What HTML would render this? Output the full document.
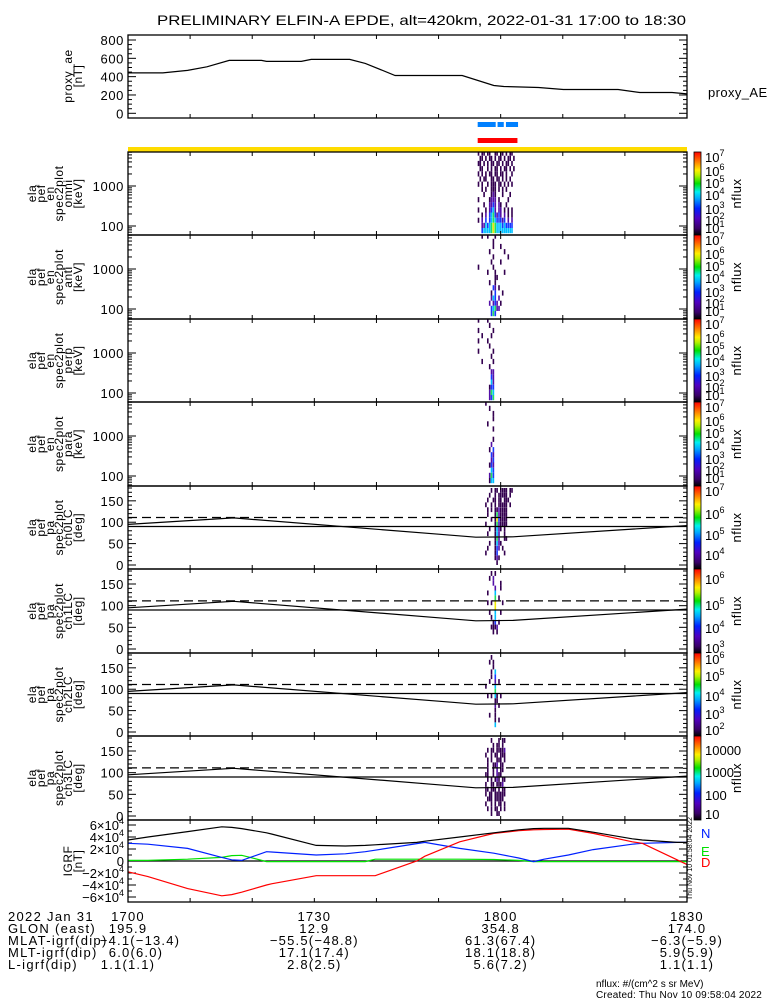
<!DOCTYPE html>
<html><head><meta charset="utf-8">
<style>
html,body{margin:0;padding:0;background:#fff;}
svg{display:block;font-family:"Liberation Sans",sans-serif;}
text{fill:#000;}
</style></head>
<body>
<svg id="chart" width="775" height="1000" viewBox="0 0 775 1000" xmlns="http://www.w3.org/2000/svg">
<defs>
<linearGradient id="cbar" x1="0" y1="1" x2="0" y2="0">
<stop offset="0" stop-color="#000000"/><stop offset="0.08" stop-color="#3a0068"/><stop offset="0.2" stop-color="#5000c0"/>
<stop offset="0.32" stop-color="#0020ff"/><stop offset="0.44" stop-color="#00a8ff"/><stop offset="0.52" stop-color="#00f0f0"/>
<stop offset="0.62" stop-color="#00e000"/><stop offset="0.72" stop-color="#b8f000"/><stop offset="0.78" stop-color="#ffef00"/>
<stop offset="0.88" stop-color="#ff8000"/><stop offset="1" stop-color="#ff0000"/>
</linearGradient>
</defs>
<text x="157" y="25" font-size="14" textLength="529" lengthAdjust="spacingAndGlyphs">PRELIMINARY ELFIN-A EPDE, alt=420km, 2022-01-31 17:00 to 18:30</text>
<g id="g"></g>
</svg>
<script>
// ---- data ----
const aeTimes = [0, 5.6, 9.6, 12.7, 16.3, 21.5, 22.3, 27.9, 29.5, 35.7, 38.2, 43, 53.8, 58.9, 60.5, 66.1, 70.1, 78.9, 82.4, 87.6, 90];
const aeValues = [441, 441, 468, 507, 577, 577, 566, 566, 588, 588, 545, 413, 413, 303, 292, 282, 260, 260, 227, 227, 212];
const aeTicks = [0, 200, 400, 600, 800];
const igrfTimes = [0, 3.2, 9.6, 15.1, 16.7, 18.3, 22.3, 23.1, 30.3, 35, 38.2, 39.8, 46.5, 47.8, 53.4, 58.9, 62.9, 65.3, 67, 70.9, 74.9, 81.2, 82.8, 88.4, 90];
const igrfTotal = [3.5, 4.0, 4.9, 5.7, 5.6, 5.4, 4.7, 4.5, 2.6, 2.5, 2.6, 2.7, 3.1, 3.3, 4.0, 4.7, 5.2, 5.4, 5.45, 5.45, 4.8, 3.7, 3.5, 3.1, 3.1];
const igrfN = [2.95, 2.8, 2.1, 0.6, 0.2, 0.1, 1.55, 1.5, 1.0, 1.2, 1.55, 1.8, 2.9, 3.1, 2.1, 1.3, 0.5, -0.1, 0.3, 1.0, 1.9, 2.8, 2.95, 3.1, 3.1];
const igrfE = [0.1, 0.1, 0.3, 0.6, 0.9, 0.95, -0.1, -0.1, -0.1, -0.1, -0.1, 0.3, 0.3, 0.3, 0.3, 0.25, 0.1, -0.1, -0.1, -0.1, -0.1, -0.1, -0.1, -0.1, -0.1];
const igrfD = [-1.8, -2.6, -4.6, -5.8, -5.6, -5.2, -4.0, -3.8, -2.45, -2.45, -2.45, -2.45, 0, 0.8, 3.2, 4.6, 5.05, 5.2, 5.25, 5.3, 4.6, 3.2, 2.95, 0.2, -0.6];
const igrfTicks = [-6, -4, -2, 0, 2, 4, 6];
const lcTimes = [0, 17, 50, 56, 62, 90];
const lossCone = [95, 110, 72, 65, 66, 92];
const refAngle = [90, 111];
const colTimes = [56.3, 56.6, 56.9, 57.2, 57.5, 57.8, 58.1, 58.4, 58.7, 59.0, 59.3, 59.6, 59.9, 60.2, 60.5, 60.8, 61.1, 61.4, 61.7, 62.0];
const energyEdges = [66, 89, 120, 161, 217, 292, 393, 529, 712, 958, 1290, 1736, 2337, 3146, 4235, 5700, 7100];
const flagTimesBlue = [[56.3, 59.2], [59.5, 60.5], [60.85, 62.8]];
const flagTimesRed = [[56.3, 62.7]];
const omniRows = ["10110110011011010110","01101011010110101101","11010101101101011010","01100101011010110101","10101011011011010010","01011001101101010100","10100101110110101010","00101001110101010000","00010001210001000100","10000012220100001000","00010022320210010000","10001023420220101010","00102034532320201010","10203034543332302020","00224345654443433330","00344445654444444440"];
const antiRows = ["00100100010000000000","00000000100000000000","00000000100010000000","00000010000000100000","00000000100000001000","00000001000010000000","10000000100000000000","00000100010000100000","00000000011000000000","00000010010000000000","00000000320100000000","00000001030001000000","00000002430200000000","00000020232010000000","00000003452200000000","00000003530000000000"];
const perpRows = ["10000100000000000000","00000010000000000000","10000000100000000000","00100001000000000000","10000100000000000000","00000010000000000000","10000000100000000000","00000001000000000000","00100000100000000000","00000010000000000000","00000002200000000000","00000003200000000000","00000004200000000000","00000013300000000000","00000025400000000000","00000023500000000000"];
const paraRows = ["00001000000000000000","00000010000000000000","00000000100000000000","00000000100000000000","00000100000000000000","00000000100000000000","00000000000000000000","00000000100000000000","00000002000000000000","00000010300000000000","00000003200000000000","00000002300000000000","00000013200000000000","00000004300000000000","00000025300000000000","00000014400000000000"];
const ch0Rows = ["00000001011011110110","00000010010111110100","00000100110110111000","00001001010111110100","00000101011211110000","00000100015211110000","00000001016311110000","00001000015211110000","00000010014210100000","00000100014200100000","00000000015200110000","00000010014210000000","00000100013201000000","00001000013000100000","00000000012100000000","00000000001000000000"];
const ch1Rows = ["00000001010000000000","00000010200000000000","00000000200010000000","00000000020010000000","00000100040000000000","00000000050100000000","00000101060001000000","00000000060000000000","00000010040010000000","00000001040000000000","00000000130100000000","00000001112000000000","00000000101000000000","00000000000000000000","00000000000000000000","00000000000000000000"];
const ch2Rows = ["00000001000000000000","00000010100000000000","00000000100000000000","00000001040000000000","00000001030000000000","00000010020100000000","00001000040000000000","00000000050000000000","00000101041010000000","00000000011000000000","00000000020100000000","00000000010000000000","00000010010000000000","00000000010100000000","00000000040000000000","00000000000000000000"];
const ch3Rows = ["00000001000101100000","00000000101101000000","00000101101111200000","00001001011011100000","00000101001110100000","00000100112011000000","00000100102011000000","00001100102110000000","00000101012101100000","00001001101112000000","00001101110101100000","00001011011111100000","00000111011111000000","00001001010110100000","00000101011010100000","00000001001100000000"];
const cbLevels = ["#ffffff","#33004f","#5410a8","#1838ff","#00c0ff","#20e060","#f0e800","#ff2000"];

// ---- layout ----
const X0 = 128, X1 = 687;
const svgNS = "http://www.w3.org/2000/svg";
const root = document.getElementById('g');
function mk(tag, attrs, parent) {
  const e = document.createElementNS(svgNS, tag);
  for (const k in attrs) e.setAttribute(k, attrs[k]);
  (parent || root).appendChild(e);
  return e;
}
function tx(t) { return X0 + t / 90 * (X1 - X0); }
function xTicks(top, bot, name) {
  for (let m = 10; m < 90; m += 10) {
    const a = mk('line', {x1: tx(m), x2: tx(m), y1: top, y2: top + 4, stroke: '#000'});
    
    
    const b = mk('line', {x1: tx(m), x2: tx(m), y1: bot, y2: bot - 4, stroke: '#000'});
    
    
  }
}
function frame(top, bot, name) {
  const r = mk('rect', {x: X0, y: top, width: X1 - X0, height: bot - top, fill: 'none', stroke: '#000', 'stroke-width': 1.3});
  
  
  xTicks(top, bot, name);
}
function ytick(y, len, name) {
  const a = mk('line', {x1: X0, x2: X0 + len, y1: y, y2: y, stroke: '#000'});
  
  
  const b = mk('line', {x1: X1, x2: X1 - len, y1: y, y2: y, stroke: '#000'});
  
  
}
function ylabel(y, str, name) {
  const t = mk('text', {x: 124, y: y + 5, 'font-size': 13, 'text-anchor': 'end', 'letter-spacing': 0.6});
  t.textContent = str;
  
  
}
function sideLabel(lines, cy, name) {
  const xs = [32, 41, 50, 59, 68, 78];
  const off = xs.length - lines.length;
  lines.forEach((s, i) => {
    const x = xs[i + off];
    const t = mk('text', {x: x + 4, y: cy, 'font-size': 12, 'text-anchor': 'middle', 'letter-spacing': 0.5, transform: 'rotate(-90 ' + (x + 4) + ' ' + cy + ')'});
    t.textContent = s;
    
    
  });
}
function path(pts, attrs, name) {
  const p = mk('path', Object.assign({d: 'M' + pts.map(q => q[0].toFixed(1) + ',' + q[1].toFixed(1)).join('L'), fill: 'none'}, attrs));
  
  
  return p;
}

// ---- AE panel ----
const aeTop = 35, aeBot = 118;
function aeY(v) { return 113.3 - v * (73.3 / 800); }
for (let v = 0; v <= 800; v += 50) ytick(aeY(v), v % 200 === 0 ? 8 : 4, 'ae');
aeTicks.forEach(v => ylabel(aeY(v), String(v), 'ae'));
frame(aeTop, aeBot, 'ae-panel');
path(aeTimes.map((t, i) => [tx(t), aeY(aeValues[i])]), {stroke: '#000', 'stroke-width': 1.2}, 'proxy-ae-line');
sideLabel(['proxy_ae', '[nT]'], 76, 'ae');
{
  const t = mk('text', {x: 708, y: 97, 'font-size': 13, 'letter-spacing': 0.4});
  t.textContent = 'proxy_AE';
  
  
}
flagTimesBlue.forEach(f => {
  const r = mk('rect', {x: tx(f[0]), y: 122, width: tx(f[1]) - tx(f[0]), height: 5, fill: '#0080ff'});
  
  
});
flagTimesRed.forEach(f => {
  const r = mk('rect', {x: tx(f[0]), y: 138, width: tx(f[1]) - tx(f[0]), height: 5, fill: '#ff0000'});
  
  
});
{
  const r = mk('rect', {x: X0, y: 147, width: X1 - X0, height: 5, fill: '#ffdc00'});
  
  
}

// ---- colorbar ----
function colorbar(top, bot, labels, name) {
  const r = mk('rect', {x: 694, y: top, width: 7, height: bot - top, fill: 'url(#cbar)', stroke: '#000', 'stroke-width': 0.8});
  
  
  labels.forEach(l => {
    const t = mk('text', {x: 705, y: l[1] + 5, 'font-size': 13});
    
    
    if (l[0].startsWith('e')) {
      t.textContent = '10';
      const s = mk('tspan', {dy: -6, 'font-size': 9}, t);
      s.textContent = l[0].slice(1);
    } else t.textContent = l[0];
  });
  const cy = (top + bot) / 2;
  const t = mk('text', {x: 741, y: cy, 'font-size': 13, 'text-anchor': 'middle', 'letter-spacing': 0.5, transform: 'rotate(-90 741 ' + cy + ')'});
  t.textContent = 'nflux';
  
  
}

// ---- cells ----
function cells(rows, top, rowEdge, name) {
  const n = rows.length;
  rows.forEach((s, ri) => {
    const bin = n - 1 - ri;
    const y1 = rowEdge(bin + 1), y0 = rowEdge(bin);
    for (let c = 0; c < s.length; c++) {
      const lv = +s[c];
      if (!lv) continue;
      const x = tx(colTimes[c]);
      const r = mk('rect', {x: x.toFixed(1), y: y1.toFixed(1), width: 1.6, height: (y0 - y1).toFixed(1), fill: cbLevels[lv]});
      
      
    }
  });
}

// ---- energy spectrogram panels ----
const enPanels = [[152, 235, 'omni', omniRows], [235, 319, 'anti', antiRows], [319, 402, 'perp', perpRows], [402, 486, 'para', paraRows]];
const enCb = [['e7', 5], ['e6', 19], ['e5', 31], ['e4', 43], ['e3', 57], ['e2', 68], ['e1', 76]];
enPanels.forEach(p => {
  const [top, bot, nm, rows] = p;
  const eY = v => top + 34 + (3 - Math.log10(v)) * 40;
  cells(rows, top, b => eY(energyEdges[b]), nm);
  for (let d = 100; d <= 1000; d *= 10)
    for (let k = 1; k <= 9; k++) {
      const y = eY(d * k);
      if (y > top && y < bot) ytick(y, k === 1 ? 8 : 4, nm);
    }
  [60, 70, 80, 90].forEach(v => { const y = eY(v); if (y < bot) ytick(y, 4, nm); });
  ylabel(eY(1000), '1000', nm);
  ylabel(eY(100), '100', nm);
  frame(top, bot, nm + '-panel');
  sideLabel(['ela', 'pef', 'en', 'spec2plot', nm, '[keV]'], (top + bot) / 2, nm);
  colorbar(top, bot, enCb.map(l => [l[0], top + l[1]]), nm);
});

// ---- pitch angle panels ----
const paPanels = [[486, 569, 'ch0LC', ch0Rows, [['e7', 491], ['e6', 514], ['e5', 535], ['e4', 555]]],
                  [569, 653, 'ch1LC', ch1Rows, [['e6', 579], ['e5', 605], ['e4', 628], ['e3', 648]]],
                  [653, 736, 'ch2LC', ch2Rows, [['e6', 659], ['e5', 676], ['e4', 696], ['e3', 714], ['e2', 730]]],
                  [736, 820, 'ch3LC', ch3Rows, [['10000', 750], ['1000', 772], ['100', 795], ['10', 814]]]];
paPanels.forEach(p => {
  const [top, bot, nm, rows, cb] = p;
  const aY = v => bot - 4 - v * (bot - top - 6) / 180;
  cells(rows, top, b => aY(b * 180 / rows.length), nm);
  for (let v = 0; v <= 180; v += 10) ytick(aY(v), v % 50 === 0 ? 8 : 4, nm);
  [0, 50, 100, 150].forEach(v => ylabel(aY(v), String(v), nm));
  path([[X0, aY(refAngle[0])], [X1, aY(refAngle[0])]], {stroke: '#000', 'stroke-width': 1.2}, nm + '-90deg-line');
  path([[X0, aY(refAngle[1])], [X1, aY(refAngle[1])]], {stroke: '#000', 'stroke-width': 1.2, 'stroke-dasharray': '9,5'}, nm + '-dashed-line');
  path(lcTimes.map((t, i) => [tx(t), aY(lossCone[i])]), {stroke: '#000', 'stroke-width': 1.2}, nm + '-loss-cone-line');
  frame(top, bot, nm + '-panel');
  sideLabel(['ela', 'pef', 'pa', 'spec2plot', nm, '[deg]'], (top + bot) / 2, nm);
  colorbar(top, bot, cb, nm);
});

// ---- IGRF panel ----
const gTop = 820, gBot = 902;
const gY = v => 861 - v * 6;
for (let v = -6; v <= 6; v += 1) ytick(gY(v), v % 2 === 0 ? 8 : 4, 'igrf');
igrfTicks.forEach(v => {
  const t = mk('text', {x: 124, y: gY(v) + 5, 'font-size': 13, 'text-anchor': 'end'});
  
  
  if (v === 0) { t.textContent = '0'; return; }
  t.textContent = (v < 0 ? '\u2212' : '') + Math.abs(v) + '\u00d710';
  const s = mk('tspan', {dy: -6, 'font-size': 9}, t);
  s.textContent = '4';
});
path([[X0, gY(0)], [X1, gY(0)]], {stroke: '#000', 'stroke-width': 1.2}, 'igrf-zero-line');
path(igrfTimes.map((t, i) => [tx(t), gY(igrfE[i])]), {stroke: '#00e000', 'stroke-width': 1.2}, 'igrf-e-line');
path(igrfTimes.map((t, i) => [tx(t), gY(igrfN[i])]), {stroke: '#0020ff', 'stroke-width': 1.2}, 'igrf-n-line');
path(igrfTimes.map((t, i) => [tx(t), gY(igrfD[i])]), {stroke: '#ff0000', 'stroke-width': 1.2}, 'igrf-d-line');
path(igrfTimes.map((t, i) => [tx(t), gY(igrfTotal[i])]), {stroke: '#000', 'stroke-width': 1.2}, 'igrf-total-line');
frame(gTop, gBot, 'igrf-panel');
sideLabel(['IGRF', '[nT]'], 861, 'igrf');
[['N', '#0020ff', 838], ['E', '#00e000', 856], ['D', '#ff0000', 867]].forEach(l => {
  const t = mk('text', {x: 701, y: l[2], 'font-size': 13, fill: l[1]});
  t.style.fill = l[1];
  t.textContent = l[0];
  
  
});
{
  const t = mk('text', {x: 692, y: 900, 'font-size': 7, transform: 'rotate(-90 692 900)'});
  t.textContent = 'Thu Nov 10 01:58:04 2022';
  
  
}

// ---- bottom annotations ----
const rowNames = ['2022 Jan 31', 'GLON (east)', 'MLAT-igrf(dip)', 'MLT-igrf(dip)', 'L-igrf(dip)'];
const tickTimes = [0, 30, 60, 90];
const tickTexts = ['1700', '1730', '1800', '1830'];
const glon = ['195.9', '12.9', '354.8', '174.0'];
const mlat = ['\u22124.1(\u221213.4)', '\u221255.5(\u221248.8)', '61.3(67.4)', '\u22126.3(\u22125.9)'];
const mlt = ['6.0(6.0)', '17.1(17.4)', '18.1(18.8)', '5.9(5.9)'];
const lval = ['1.1(1.1)', '2.8(2.5)', '5.6(7.2)', '1.1(1.1)'];
const rowsVals = [tickTexts, glon, mlat, mlt, lval];
const rowY = [921, 933, 945, 957, 969];
rowNames.forEach((n, i) => {
  const t = mk('text', {x: 8, y: rowY[i], 'font-size': 13, 'letter-spacing': 1.3});
  t.textContent = n;
  
  
  rowsVals[i].forEach((v, j) => {
    const xo = (j === 0 && i === 2) ? 12 : (j === 0 && i === 3 ? 8 : 0);
    const u = mk('text', {x: tx(tickTimes[j]) + xo, y: rowY[i], 'font-size': 13, 'text-anchor': 'middle', 'letter-spacing': 1.2});
    u.textContent = v;
    
    
  });
});
{
  const t = mk('text', {x: 596, y: 987, 'font-size': 10});
  t.textContent = 'nflux: #/(cm^2 s sr MeV)';
  
  
  const u = mk('text', {x: 596, y: 998, 'font-size': 10, 'letter-spacing': 0.2});
  u.textContent = 'Created: Thu Nov 10 09:58:04 2022';
  
  
}
</script>
</body></html>
